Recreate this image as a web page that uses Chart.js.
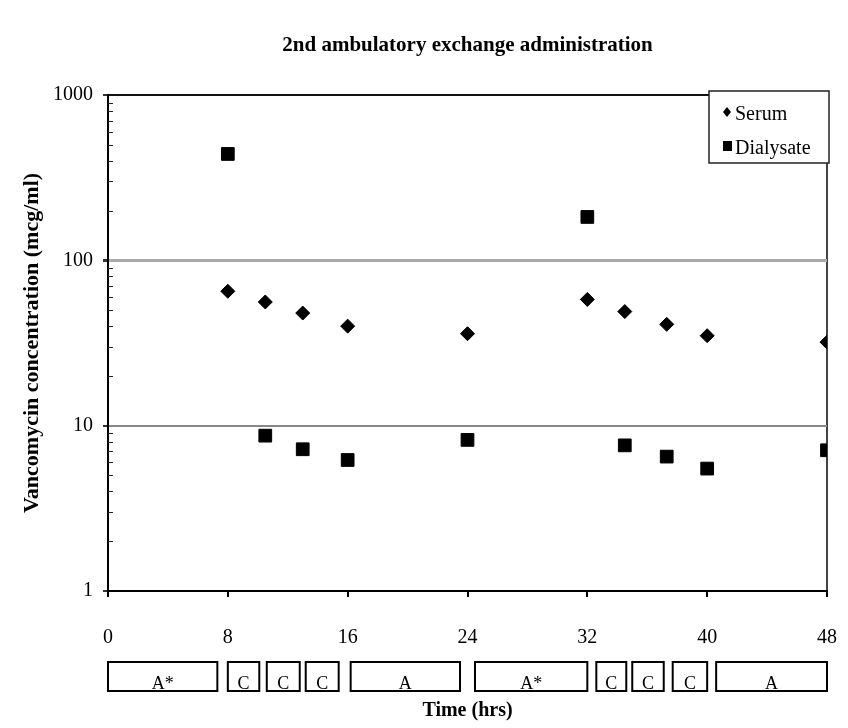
<!DOCTYPE html>
<html>
<head>
<meta charset="utf-8">
<script src="https://cdn.jsdelivr.net/npm/chart.js@4.4.0/dist/chart.umd.min.js"></script>
<style>
  html, body { margin: 0; padding: 0; background: #fff; }
  #wrap { width: 848px; height: 728px; }
</style>
</head>
<body>
<div id="wrap"><canvas id="chart" width="848" height="728"></canvas></div>
<script>
// sampling times (hours) and measured concentrations (mcg/ml)
const hours = [8, 10.5, 13, 16, 24, 32, 34.5, 37.3, 40, 48];
const serum = [65, 56, 48, 40, 36, 58, 49, 41, 35, 32];
const dialysate = [440, 8.7, 7.2, 6.2, 8.2, 183, 7.6, 6.5, 5.5, 7.1];

const xTickStep = 8;
const yTicks = [1, 10, 100, 1000];

// exchange phases shown under the time axis
const phaseStart = [0, 8, 10.6, 13.2, 16.2, 24.5, 32.6, 35, 37.7, 40.6];
const phaseEnd = [7.3, 10.1, 12.8, 15.4, 23.5, 32, 34.6, 37.1, 40, 48];
const phaseLabels = ['A*', 'C', 'C', 'C', 'A', 'A*', 'C', 'C', 'C', 'A'];

const serif = 'Liberation Serif, Times New Roman, serif';

const toPoints = ys => hours.map((h, i) => ({ x: h, y: ys[i] }));

// small inner ticks between the decades
const minorTicks = {
  id: 'minorTicks',
  afterDraw(chart) {
    const { ctx, scales: { y }, chartArea } = chart;
    ctx.save();
    ctx.strokeStyle = '#222';
    ctx.lineWidth = 1;
    for (let d = 1; d < 1000; d *= 10) {
      for (let k = 2; k <= 9; k++) {
        const py = Math.round(y.getPixelForValue(d * k)) + 0.5;
        ctx.beginPath();
        ctx.moveTo(chartArea.left, py);
        ctx.lineTo(chartArea.left + 5, py);
        ctx.stroke();
      }
    }
    ctx.restore();
  }
};

// legend box in the top right corner
const boxLegend = {
  id: 'boxLegend',
  afterDraw(chart) {
    const { ctx, chartArea } = chart;
    const right = chartArea.right + 2, top = chartArea.top - 4;
    const w = 120, h = 72;
    ctx.save();
    ctx.fillStyle = '#fff';
    ctx.fillRect(right - w, top, w, h);
    ctx.strokeStyle = '#222';
    ctx.lineWidth = 1.5;
    ctx.strokeRect(right - w, top, w, h);
    ctx.fillStyle = '#000';
    ctx.font = '20px ' + serif;
    ctx.textBaseline = 'alphabetic';
    chart.data.datasets.forEach((ds, i) => {
      const cy = top + 21 + i * 34;
      const mx = right - w + 18;
      if (ds.pointStyle === 'rectRot') {
        ctx.beginPath();
        ctx.moveTo(mx, cy - 5); ctx.lineTo(mx + 4, cy); ctx.lineTo(mx, cy + 5); ctx.lineTo(mx - 4, cy);
        ctx.closePath(); ctx.fill();
      } else {
        ctx.fillRect(mx - 4, cy - 5, 9, 10);
      }
      ctx.fillText(ds.label, mx + 8, cy + 8);
    });
    ctx.restore();
  }
};

// phase boxes under the x axis
const phaseBoxes = {
  id: 'phaseBoxes',
  afterDraw(chart) {
    const { ctx, scales: { x }, chartArea } = chart;
    const top = chartArea.bottom + 71, h = 29;
    ctx.save();
    ctx.strokeStyle = '#000';
    ctx.lineWidth = 2;
    ctx.fillStyle = '#000';
    ctx.font = '18px ' + serif;
    ctx.textAlign = 'center';
    ctx.textBaseline = 'alphabetic';
    phaseLabels.forEach((lab, i) => {
      const x0 = x.getPixelForValue(phaseStart[i]);
      const x1 = x.getPixelForValue(phaseEnd[i]);
      ctx.strokeRect(x0, top, x1 - x0, h);
      ctx.fillText(lab, (x0 + x1) / 2, top + h - 2);
    });
    ctx.restore();
  }
};

const chart = document.querySelector('#chart').getContext('2d');
new Chart(chart, {
  type: 'scatter',
  data: {
    datasets: [
      {
        label: 'Serum',
        data: toPoints(serum),
        pointStyle: 'rectRot',
        pointRadius: 7,
        backgroundColor: '#000',
        borderColor: '#000'
      },
      {
        label: 'Dialysate',
        data: toPoints(dialysate),
        pointStyle: 'rect',
        pointRadius: 9,
        backgroundColor: '#000',
        borderColor: '#000'
      }
    ]
  },
  options: {
    responsive: false,
    animation: false,
    devicePixelRatio: 1,
    layout: { padding: { left: 0, right: 21, top: 0, bottom: 0 } },
    plugins: {
      legend: { display: false },
      tooltip: { enabled: false },
      title: {
        display: true,
        fullSize: false,
        text: '2nd ambulatory exchange administration',
        color: '#000',
        font: { family: serif, size: 21, weight: 'bold' },
        padding: { top: 33, bottom: 36.8 }
      }
    },
    scales: {
      x: {
        type: 'linear',
        min: 0,
        max: 48,
        afterFit: s => {
          s.height = 137;
          s.paddingLeft = 10;
          s.paddingRight = 12;
        },
        ticks: {
          stepSize: xTickStep,
          color: '#000',
          font: { family: serif, size: 20 },
          padding: 29,
          maxRotation: 0
        },
        grid: {
          color: c => (c.tick && c.tick.value === 48) ? '#444' : 'rgba(0,0,0,0)',
          lineWidth: 2,
          tickColor: '#000',
          tickLength: 6
        },
        border: { color: '#000', width: 2 },
        title: {
          display: true,
          text: 'Time (hrs)',
          color: '#000',
          font: { family: serif, size: 20, weight: 'bold' },
          padding: { top: 0, bottom: 5 }
        }
      },
      y: {
        type: 'logarithmic',
        min: 1,
        max: 1000,
        afterBuildTicks: s => { s.ticks = yTicks.map(v => ({ value: v })); },
        afterFit: s => { s.width = 108; },
        ticks: {
          color: '#000',
          font: { family: serif, size: 20 },
          padding: 10,
          callback: v => String(v)
        },
        grid: {
          color: c => {
            const v = c.tick && c.tick.value;
            if (v === 1000) return '#111';
            if (v === 100) return '#aaa';
            if (v === 10) return '#888';
            return 'rgba(0,0,0,0)';
          },
          lineWidth: c => (c.tick && c.tick.value === 100) ? 3 : 2,
          tickColor: '#333',
          tickLength: 5
        },
        border: { color: '#000', width: 2 },
        title: {
          display: true,
          text: 'Vancomycin concentration (mcg/ml)',
          color: '#000',
          font: { family: serif, size: 22, weight: 'bold' },
          padding: { top: 19, bottom: 0 }
        }
      }
    }
  },
  plugins: [minorTicks, phaseBoxes, boxLegend]
});
</script>
</body>
</html>
